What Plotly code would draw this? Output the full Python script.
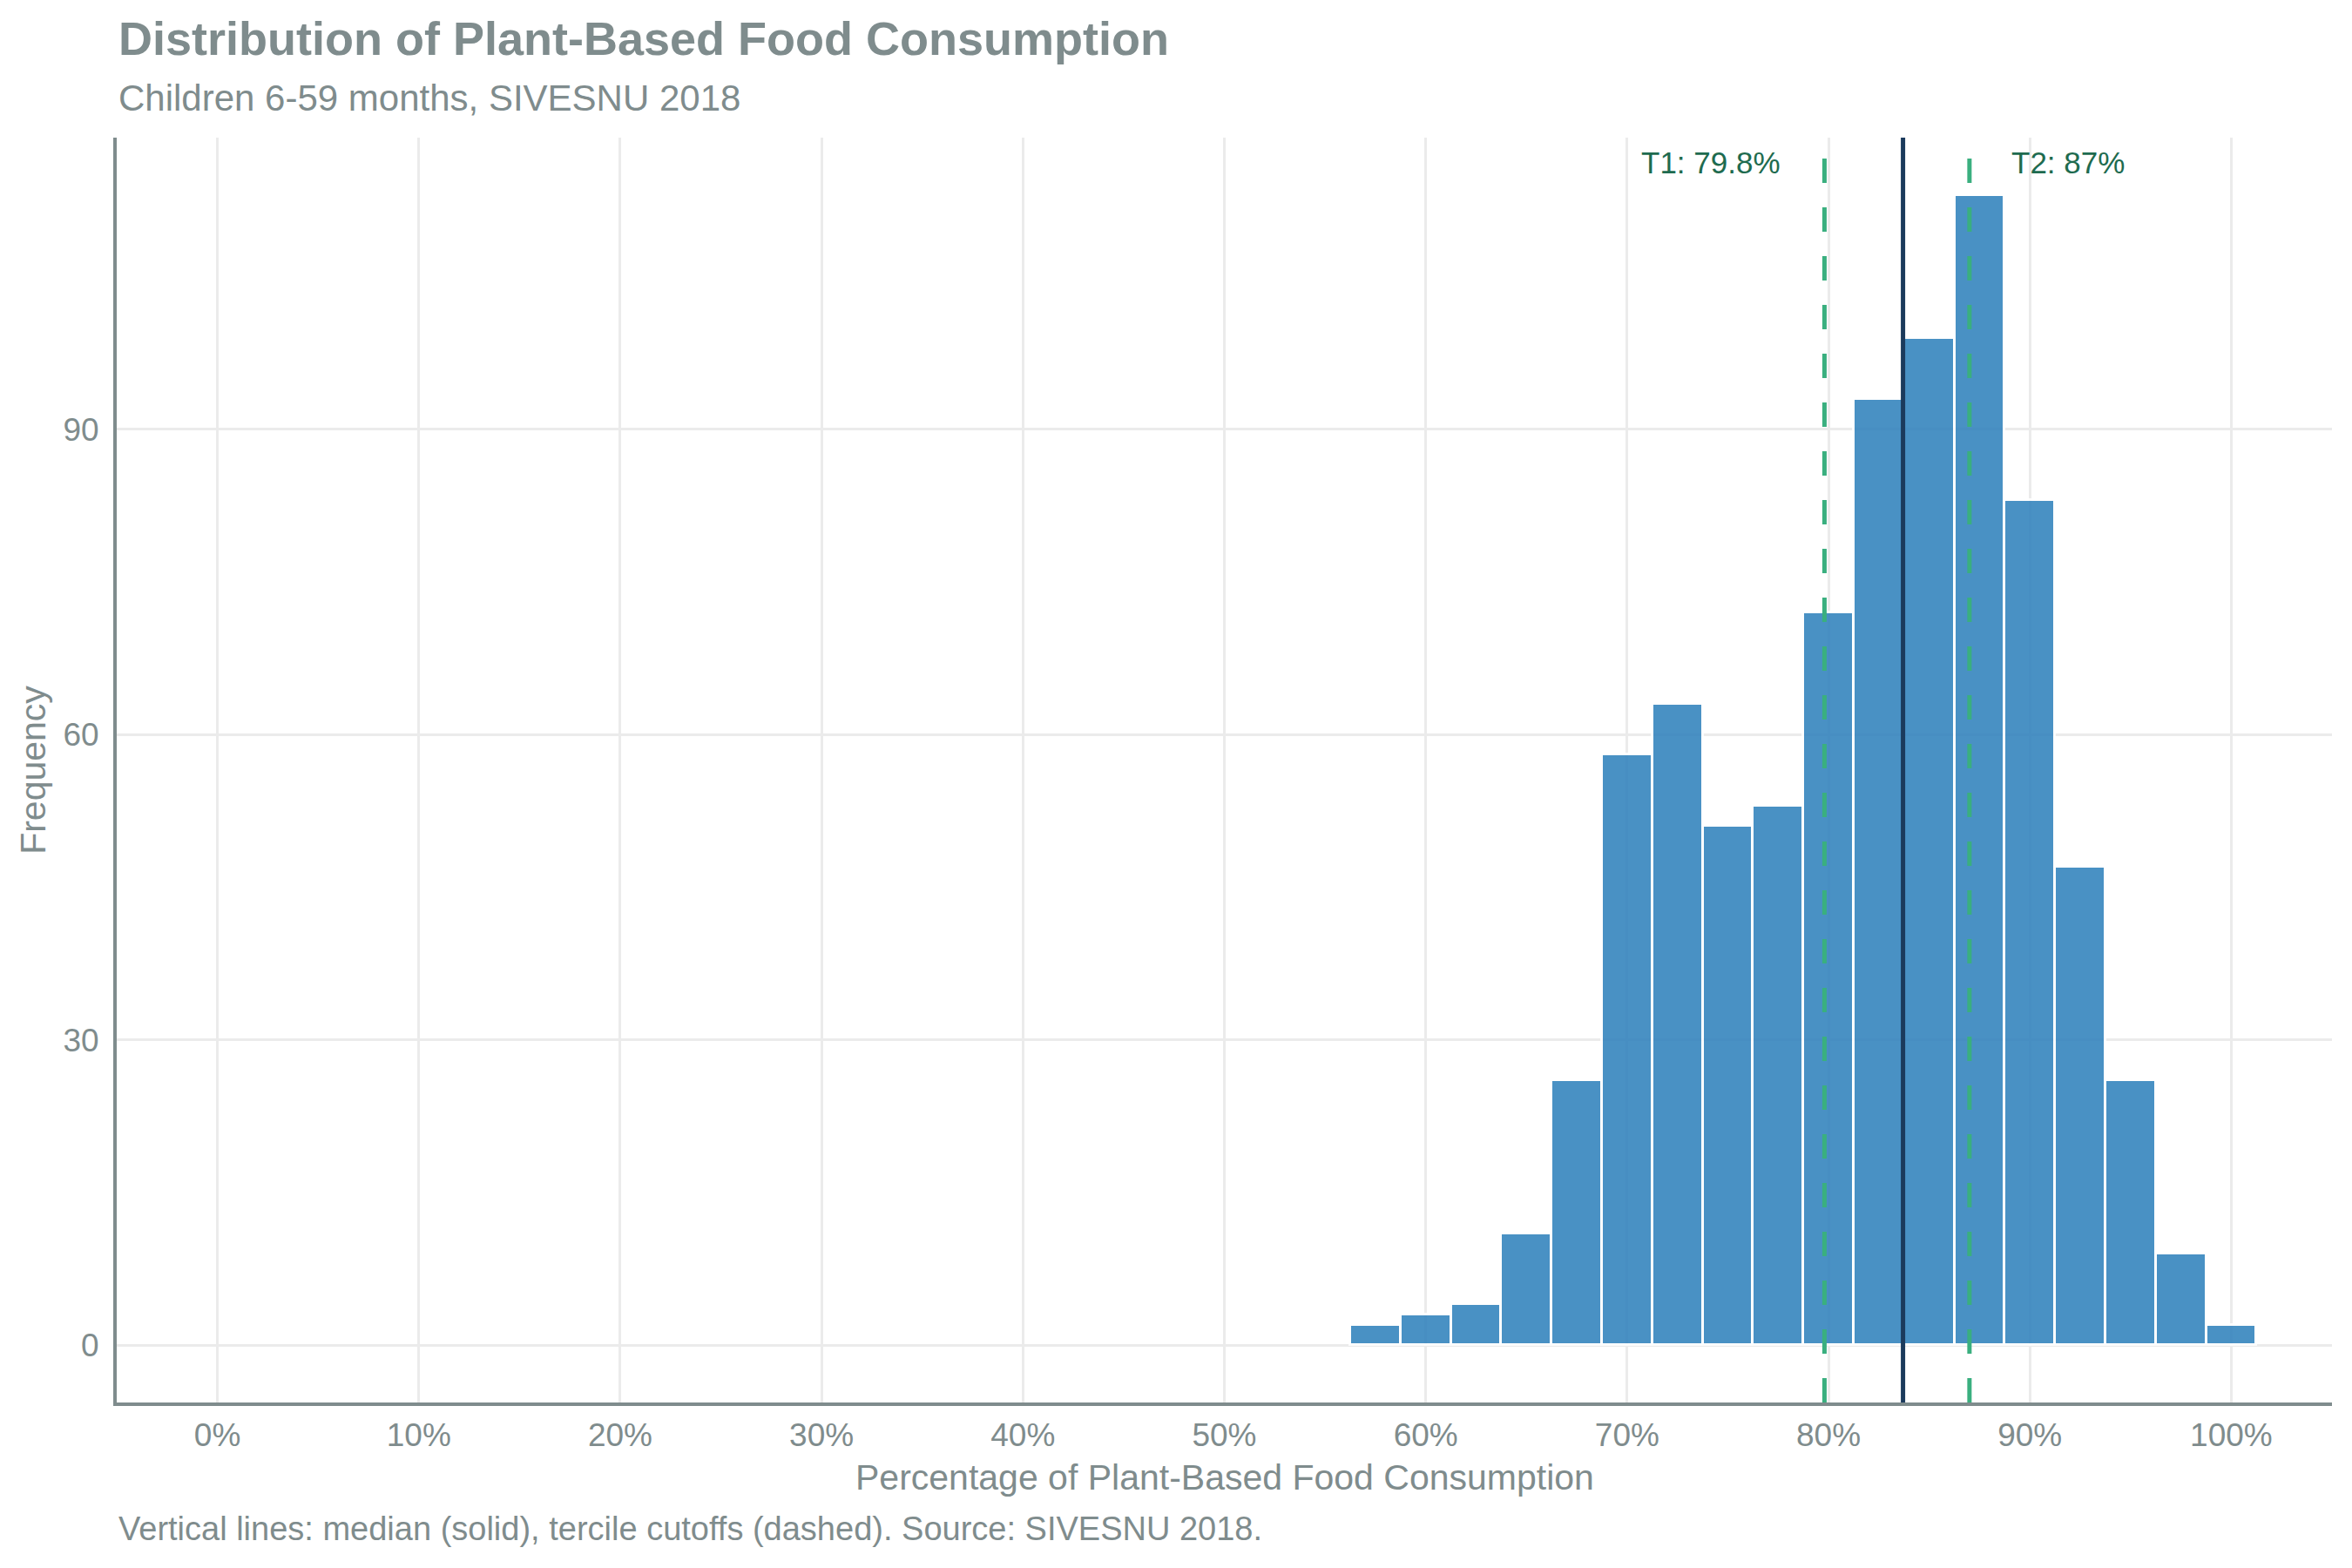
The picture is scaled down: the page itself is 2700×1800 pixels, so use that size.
import plotly.graph_objects as go

# ---- data ----
bin_centers = [57.5, 60, 62.5, 65, 67.5, 70, 72.5, 75, 77.5, 80, 82.5, 85, 87.5, 90, 92.5, 95, 97.5, 100]
counts = [2, 3, 4, 11, 26, 58, 63, 51, 53, 72, 93, 99, 113, 83, 47, 26, 9, 2]
bin_width = 2.5
median_val = 83.7
tercile_1 = 79.8
tercile_2 = 87.0
x_ticks = [0, 10, 20, 30, 40, 50, 60, 70, 80, 90, 100]
x_tick_labels = [f"{v}%" for v in x_ticks]
y_ticks = [0, 30, 60, 90]

GRAY = "#7f8c8d"
FONT = "Liberation Sans, Arial, sans-serif"

fig = go.Figure()
fig.add_trace(go.Bar(
    x=bin_centers, y=counts, width=bin_width,
    marker=dict(color="#3182bd", line=dict(color="white", width=3)),
    opacity=0.88, showlegend=False, hoverinfo="x+y",
))

# vertical lines
fig.add_shape(type="line", xref="x", yref="paper", x0=tercile_1, x1=tercile_1, y0=0, y1=1,
              line=dict(color="#3aaf7f", width=5, dash="28px,28px"), layer="above")
fig.add_shape(type="line", xref="x", yref="paper", x0=tercile_2, x1=tercile_2, y0=0, y1=1,
              line=dict(color="#3aaf7f", width=5, dash="28px,28px"), layer="above")
fig.add_shape(type="line", xref="x", yref="paper", x0=median_val, x1=median_val, y0=0, y1=1,
              line=dict(color="#1b3a5c", width=5), layer="above")

fig.add_annotation(x=tercile_1 - 2.1, y=116.2, xref="x", yref="y", text=f"T1: {tercile_1}%",
                   showarrow=False, xanchor="right", yanchor="middle",
                   font=dict(family=FONT, size=35, color="#1e6b4f"))
fig.add_annotation(x=tercile_2 + 2.0, y=116.2, xref="x", yref="y", text=f"T2: {tercile_2:g}%",
                   showarrow=False, xanchor="left", yanchor="middle",
                   font=dict(family=FONT, size=35, color="#1e6b4f"))

# titles
fig.add_annotation(x=0, y=1.0785, xref="paper", yref="paper", text="<b>Distribution of Plant-Based Food Consumption</b>",
                   showarrow=False, xanchor="left", yanchor="middle",
                   font=dict(family=FONT, size=54, color=GRAY))
fig.add_annotation(x=0, y=1.031, xref="paper", yref="paper", text="Children 6-59 months, SIVESNU 2018",
                   showarrow=False, xanchor="left", yanchor="middle",
                   font=dict(family=FONT, size=42, color=GRAY))
fig.add_annotation(x=0.5, y=-0.0592, xref="paper", yref="paper", text="Percentage of Plant-Based Food Consumption",
                   showarrow=False, xanchor="center", yanchor="middle",
                   font=dict(family=FONT, size=41, color=GRAY))
fig.add_annotation(x=-0.0378, y=0.5, xref="paper", yref="paper", text="Frequency", textangle=-90,
                   showarrow=False, xanchor="center", yanchor="middle",
                   font=dict(family=FONT, size=41, color=GRAY))
fig.add_annotation(x=0, y=-0.0999, xref="paper", yref="paper",
                   text="Vertical lines: median (solid), tercile cutoffs (dashed). Source: SIVESNU 2018.",
                   showarrow=False, xanchor="left", yanchor="middle",
                   font=dict(family=FONT, size=38, color=GRAY))

# page body has an 8px margin; size the figure so the plot sits where the reference's does
fig.update_layout(
    width=2692, height=1792,
    margin=dict(l=126, r=23, t=150, b=190),
    plot_bgcolor="white", paper_bgcolor="white",
    font=dict(family=FONT, color=GRAY),
    bargap=0,
    xaxis=dict(range=[-5, 105], tickvals=x_ticks, ticktext=x_tick_labels,
               showgrid=True, gridcolor="#ebebeb", gridwidth=3, zeroline=False,
               showline=True, linecolor=GRAY, linewidth=4, ticks="",
               tickfont=dict(family=FONT, size=37, color=GRAY), ticklabelstandoff=2),
    yaxis=dict(range=[-5.65, 118.65], tickvals=y_ticks,
               showgrid=True, gridcolor="#ebebeb", gridwidth=3, zeroline=False,
               showline=True, linecolor=GRAY, linewidth=4, ticks="",
               tickfont=dict(family=FONT, size=37, color=GRAY), ticklabelstandoff=9),
)

fig.write_html("out.html")
